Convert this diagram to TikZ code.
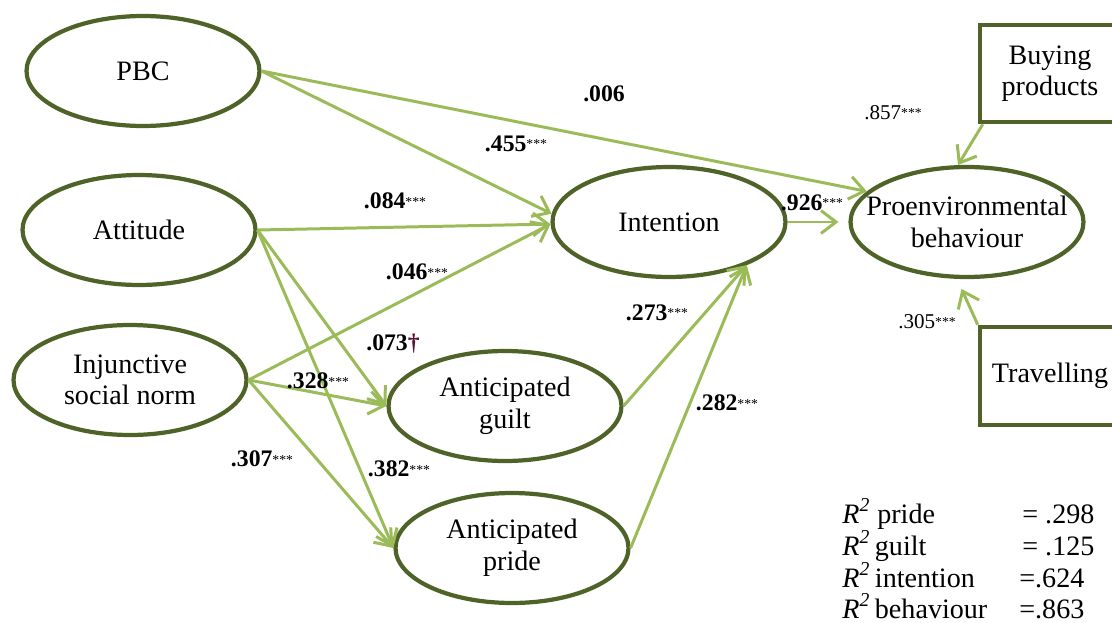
\documentclass[tikz,border=0pt]{standalone}
\usepackage{fontspec}
\setmainfont{Liberation Serif}
\usetikzlibrary{shapes.geometric,arrows.meta}
\definecolor{olivedark}{HTML}{4F6228}
\definecolor{leaf}{HTML}{9BBB59}
\definecolor{daggerred}{HTML}{5A1030}
\newcommand\stars{\raisebox{0.25ex}{\fontsize{7.8}{8}\selectfont\mdseries ***}}
\begin{document}
\begin{tikzpicture}[x=0.02cm,y=-0.02cm,
  construct/.style={ellipse,draw=olivedark,line width=2.4pt,minimum width=4.66cm,
    minimum height=2.2cm,inner sep=0pt,align=center,font=\fontsize{16}{18}\selectfont},
  indicator/.style={rectangle,draw=olivedark,line width=2.6pt,minimum width=2.8cm,
    inner sep=0pt,align=center,font=\fontsize{16}{18}\selectfont},
  link/.style={draw=leaf,line width=1.7pt,-{Straight Barb[length=8.5pt,width=13pt]}},
  coef/.style={font=\fontsize{13.5}{15}\selectfont\bfseries,inner sep=0pt},
  loading/.style={font=\fontsize{12}{14}\selectfont,inner sep=0pt},
  rsq/.style={anchor=base west,inner sep=0pt,font=\fontsize{16}{18}\selectfont}
]
\clip (0,0) rectangle (1112,622);

% latent constructs
\node[construct] (pbc)   at (143,71)  {PBC};
\node[construct] (att)   at (139,230) {Attitude};
\node[construct] (inj)   at (130,380) {Injunctive\\social norm};
\node[construct] (int)   at (669,222) {Intention};
\node[construct,inner xsep=-0.4cm] (pro) at (967,222) {Proenvironmental\\behaviour};
\node[construct] (guilt) at (505,406) {Anticipated\\guilt};
\node[construct] (pride) at (512,548) {Anticipated\\pride};

% behaviour indicators
\node[indicator,minimum height=1.94cm] (buy)  at (1050,73.5) {Buying\\products};
\node[indicator,minimum height=1.96cm] (trav) at (1050,376)  {Travelling};

% structural paths
\draw[link] (pbc.east) -- (pro.163);
\draw[link] (pbc.east) -- (int.176);
\draw[link] (att.east) -- (int.181);
\draw[link] (inj.east) -- (int.181);
\draw[link] (att.east) -- (guilt.west);
\draw[link] (inj.east) -- (guilt.west);
\draw[link] (att.east) -- (pride.west);
\draw[link] (inj.east) -- (pride.west);
\draw[link] (guilt.east) -- (int.-29);
\draw[link] (pride.east) -- (int.-29);
\draw[link,shorten >=0.2cm] (int.east) -- (pro.west);

% measurement paths
\draw[link] ([xshift=0.1cm]buy.south west) -- (pro.99);
\draw[link,shorten >=0.22cm] (trav.north west) -- (pro.260);

% path coefficients
\node[coef] (c006) at (604,94)  {.006};
\node[coef] (c455) at (516,144) {.455\stars};
\node[coef] (c084) at (395,201) {.084\stars};
\node[coef] (c046) at (417,272) {.046\stars};
\node[coef] (c073) at (393,344) {.073\textcolor{daggerred}{\dag}};
\node[coef] (c328) at (318,381) {.328\stars};
\node[coef] (c307) at (262,459) {.307\stars};
\node[coef] (c382) at (399,469) {.382\stars};
\node[coef] (c273) at (657,313) {.273\stars};
\node[coef] (c282) at (727,403) {.282\stars};
\node[coef] (c926) at (812,203) {.926\stars};
\node[loading] (c857) at (893,113) {.857\stars};
\node[loading] (c305) at (927,322) {.305\stars};

% explained variance
\node[rsq] (r1) at (842,523) {\textit{R}\textsuperscript{\textit{2}} pride};
\node[rsq] (r2) at (842,555) {\textit{R}\textsuperscript{\textit{2}}\,guilt};
\node[rsq] (r3) at (842,587) {\textit{R}\textsuperscript{\textit{2}}\,intention};
\node[rsq] (r4) at (842,618) {\textit{R}\textsuperscript{\textit{2}}\,behaviour};
\node[rsq] (v1) at (1022,523) {= .298};
\node[rsq] (v2) at (1022,555) {= .125};
\node[rsq] (v3) at (1019,587) {=.624};
\node[rsq] (v4) at (1019,618) {=.863};
\end{tikzpicture}
\end{document}
